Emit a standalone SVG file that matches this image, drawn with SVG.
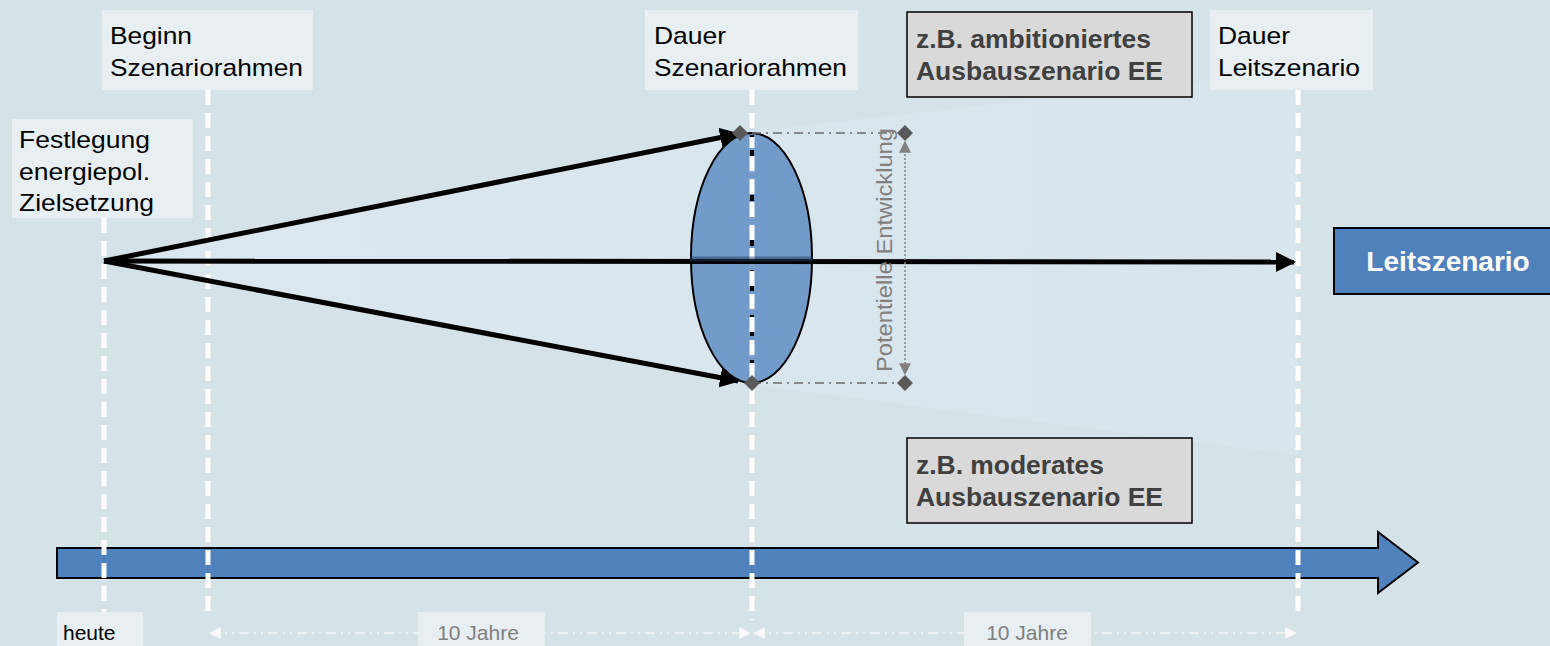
<svg xmlns="http://www.w3.org/2000/svg" width="1550" height="646" viewBox="0 0 1550 646">
  <style>
    .lbl { fill: #e7eff2; }
    .txt { font-family: "Liberation Sans", Arial, sans-serif; font-size: 24px; fill: #000; }
    .gbox { fill: #d9d9d9; stroke: #000; stroke-width: 1.5; }
    .gtxt { font-family: "Liberation Sans", Arial, sans-serif; font-size: 25px; font-weight: bold; fill: #404040; }
    .small { font-family: "Liberation Sans", Arial, sans-serif; font-size: 21px; }
    .guide { stroke: #fff; stroke-width: 5; stroke-dasharray: 15 8; fill: none; }
    .thick { stroke: #000; stroke-width: 5; fill: none; }
    .dim { stroke: #f2f5f6; stroke-width: 1.5; stroke-dasharray: 10 5 2 5 2 5; fill: none; }
    .gdash { stroke: #6b6b6b; stroke-width: 1.5; stroke-dasharray: 9 5 2 5; fill: none; }
    .dia { fill: #595959; }
  </style>
  <defs>
    <marker id="blk" viewBox="0 0 10 10" refX="9" refY="5" markerWidth="4" markerHeight="4" markerUnits="strokeWidth" orient="auto">
      <path d="M0,0 L10,5 L0,10 z" fill="#000"/>
    </marker>
    <marker id="wht" viewBox="0 0 10 10" refX="9" refY="5" markerWidth="8" markerHeight="8" markerUnits="strokeWidth" orient="auto-start-reverse">
      <path d="M0,0 L10,5 L0,10 z" fill="#f7f9fa"/>
    </marker>
    <marker id="gry" viewBox="0 0 10 10" refX="9" refY="5" markerWidth="8" markerHeight="8" markerUnits="strokeWidth" orient="auto-start-reverse">
      <path d="M0,0 L10,5 L0,10 z" fill="#808080"/>
    </marker>
    <linearGradient id="wedge" x1="0" y1="0" x2="1" y2="0">
      <stop offset="0" stop-color="#dbe7ee"/>
      <stop offset="1" stop-color="#d9e5ed"/>
    </linearGradient>
  </defs>

  <!-- background -->
  <rect x="0" y="0" width="1550" height="646" fill="#d5e3e9"/>
  <!-- light cone opening from today towards the guiding scenario -->
  <polygon points="104,261 740,133 1298,70 1298,455 752,385" fill="url(#wedge)"/>

  <!-- time axis -->
  <g id="timeline">
    <path d="M57,548 H1378 V532 L1418,562.5 L1378,593 V578 H57 Z" fill="#4f81bd" stroke="#000" stroke-width="2"/>
  </g>

  <!-- vertical milestone guides -->
  <g id="guides">
    <line class="guide" x1="104" y1="218" x2="104" y2="612"/>
    <line class="guide" x1="208" y1="90" x2="208" y2="616"/>
    <line class="guide" x1="752" y1="90" x2="752" y2="620"/>
    <line class="guide" x1="1298" y1="90" x2="1298" y2="616"/>
  </g>

  <!-- range of possible developments -->
  <g id="range">
    <ellipse cx="751.5" cy="258" rx="60.5" ry="125" fill="#4f81bd" fill-opacity="0.75" stroke="#000" stroke-width="2"/>
    <line x1="752" y1="135" x2="752" y2="381" stroke="#000" stroke-width="4" stroke-dasharray="6 9"/>
    <line x1="752" y1="137" x2="752" y2="381" stroke="#fff" stroke-width="5" stroke-dasharray="15 8" stroke-dashoffset="4"/>
  </g>

  <!-- connectors -->
  <g id="connectors">
    <line class="thick" x1="104" y1="261" x2="738" y2="134" marker-end="url(#blk)"/>
    <line class="thick" x1="104" y1="261" x2="738" y2="381" marker-end="url(#blk)"/>
    <line class="thick" x1="104" y1="261" x2="1294" y2="262" marker-end="url(#blk)"/>
    <line x1="690" y1="259" x2="813" y2="259" stroke="#1f3b5e" stroke-opacity="0.5" stroke-width="5"/>
    <!-- bracket for potential development -->
    <line class="gdash" x1="752" y1="133" x2="905" y2="133"/>
    <line class="gdash" x1="752" y1="383" x2="905" y2="383"/>
    <line x1="905" y1="142" x2="905" y2="374" stroke="#808080" stroke-width="1.5" stroke-dasharray="2 2" marker-start="url(#gry)" marker-end="url(#gry)"/>
    <polygon class="dia" points="740,125 748,133 740,141 732,133"/>
    <polygon class="dia" points="752,375 760,383 752,391 744,383"/>
    <polygon class="dia" points="905,125 913,133 905,141 897,133"/>
    <polygon class="dia" points="905,375 913,383 905,391 897,383"/>
    <!-- 10-year spans -->
    <line class="dim" x1="210" y1="633" x2="750" y2="633" marker-start="url(#wht)" marker-end="url(#wht)"/>
    <line class="dim" x1="754" y1="633" x2="1296" y2="633" marker-start="url(#wht)" marker-end="url(#wht)"/>
  </g>

  <text x="892" y="250" transform="rotate(-90 892 250)" text-anchor="middle" font-family="Liberation Sans, Arial, sans-serif" font-size="22" fill="#808080" textLength="244" lengthAdjust="spacingAndGlyphs">Potentielle Entwicklung</text>

  <!-- milestone labels -->
  <g id="festlegung">
    <rect class="lbl" x="12" y="119" width="181" height="99"/>
    <text class="txt" x="19" y="148" textLength="131" lengthAdjust="spacingAndGlyphs">Festlegung</text>
    <text class="txt" x="19" y="179.5" textLength="131" lengthAdjust="spacingAndGlyphs">energiepol.</text>
    <text class="txt" x="19" y="211" textLength="135" lengthAdjust="spacingAndGlyphs">Zielsetzung</text>
  </g>
  <g id="beginn">
    <rect class="lbl" x="102" y="10" width="211" height="80"/>
    <text class="txt" x="110" y="44" textLength="82" lengthAdjust="spacingAndGlyphs">Beginn</text>
    <text class="txt" x="110" y="76" textLength="193" lengthAdjust="spacingAndGlyphs">Szenariorahmen</text>
  </g>
  <g id="dauer-szenariorahmen">
    <rect class="lbl" x="645" y="10" width="213" height="80"/>
    <text class="txt" x="654" y="44" textLength="72" lengthAdjust="spacingAndGlyphs">Dauer</text>
    <text class="txt" x="654" y="76" textLength="193" lengthAdjust="spacingAndGlyphs">Szenariorahmen</text>
  </g>
  <g id="dauer-leitszenario">
    <rect class="lbl" x="1210" y="10" width="163" height="80"/>
    <text class="txt" x="1218" y="44" textLength="72" lengthAdjust="spacingAndGlyphs">Dauer</text>
    <text class="txt" x="1218" y="76" textLength="142" lengthAdjust="spacingAndGlyphs">Leitszenario</text>
  </g>

  <!-- scenario boxes -->
  <g id="ambitioniert">
    <rect class="gbox" x="907" y="12" width="285" height="85"/>
    <text class="gtxt" x="916" y="48" textLength="235" lengthAdjust="spacingAndGlyphs">z.B. ambitioniertes</text>
    <text class="gtxt" x="916" y="80" textLength="247" lengthAdjust="spacingAndGlyphs">Ausbauszenario EE</text>
  </g>
  <g id="moderat">
    <rect class="gbox" x="907" y="438" width="285" height="85"/>
    <text class="gtxt" x="916" y="474" textLength="188" lengthAdjust="spacingAndGlyphs">z.B. moderates</text>
    <text class="gtxt" x="916" y="506" textLength="247" lengthAdjust="spacingAndGlyphs">Ausbauszenario EE</text>
  </g>
  <g id="leitszenario">
    <rect x="1334" y="228" width="220" height="66" fill="#4f81bd" stroke="#000" stroke-width="2"/>
    <text x="1448" y="271" text-anchor="middle" font-family="Liberation Sans, Arial, sans-serif" font-size="28" font-weight="bold" fill="#fff">Leitszenario</text>
  </g>

  <!-- axis labels -->
  <g id="heute">
    <rect class="lbl" x="57" y="612" width="86" height="34"/>
    <text class="small" x="63" y="640">heute</text>
  </g>
  <g id="jahre-1">
    <rect class="lbl" x="418" y="612" width="127" height="34"/>
    <text class="small" x="478" y="640" text-anchor="middle" fill="#7f7f7f">10 Jahre</text>
  </g>
  <g id="jahre-2">
    <rect class="lbl" x="964" y="612" width="127" height="34"/>
    <text class="small" x="1027" y="640" text-anchor="middle" fill="#7f7f7f">10 Jahre</text>
  </g>
</svg>
